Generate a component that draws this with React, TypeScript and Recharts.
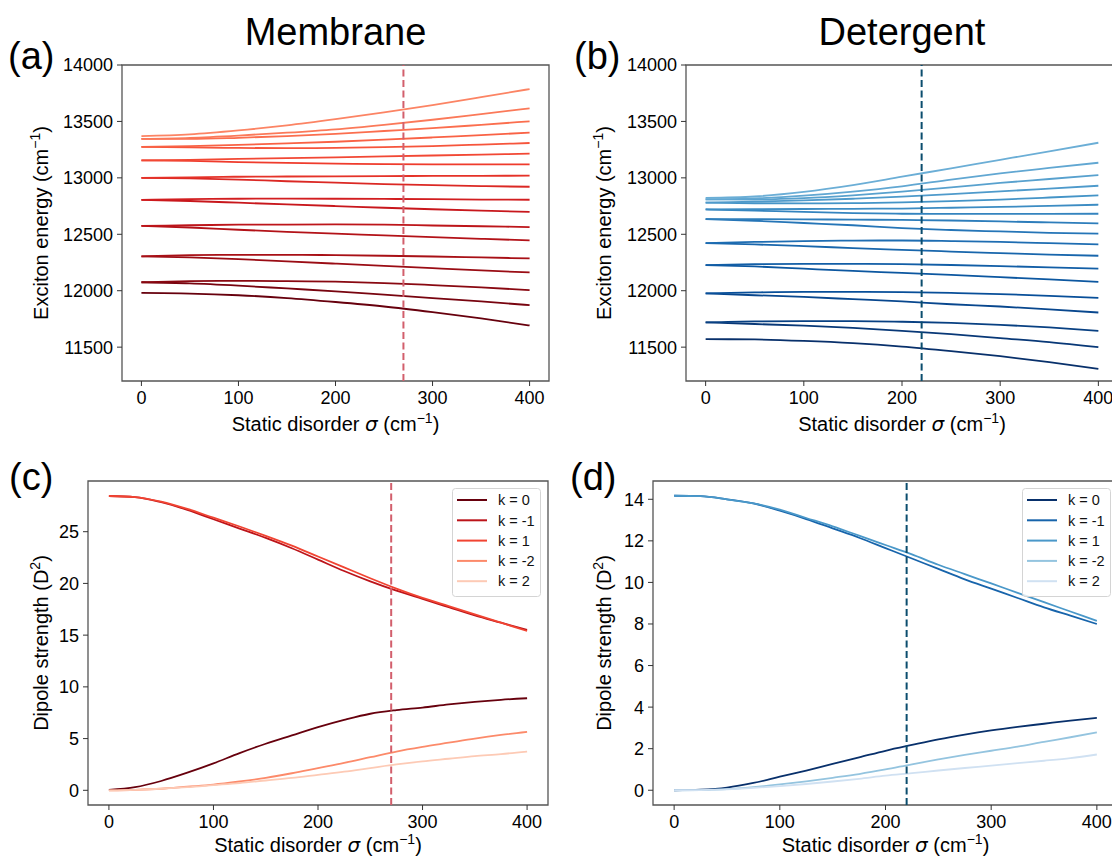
import React from 'react';
import { LineChart, Line, XAxis, YAxis, ReferenceLine, ReferenceArea, Legend } from 'recharts';

const FONT = '"Liberation Sans", Arial, Helvetica, sans-serif';

// static disorder grids (cm^-1)
const sigmaCoarse = [0, 50, 100, 150, 200, 250, 300, 350, 400];
const sigmaFine = [0, 25, 50, 75, 100, 125, 150, 175, 200, 225, 250, 275, 300, 325, 350, 375, 400];

const xTicks = [0, 100, 200, 300, 400];
const energyTicks = [11500, 12000, 12500, 13000, 13500, 14000];
const memDipoleTicks = [0, 5, 10, 15, 20, 25];
const detDipoleTicks = [0, 2, 4, 6, 8, 10, 12, 14];

// exciton levels, lowest first, one row per level, sampled on sigmaCoarse
const membraneLevels = [
  [11980, 11975, 11960, 11935, 11900, 11860, 11810, 11755, 11692],
  [12075, 12065, 12045, 12020, 11995, 11965, 11935, 11905, 11872],
  [12075, 12085, 12088, 12085, 12080, 12068, 12050, 12030, 12005],
  [12305, 12295, 12280, 12260, 12240, 12220, 12200, 12180, 12162],
  [12305, 12315, 12318, 12318, 12315, 12310, 12303, 12295, 12286],
  [12575, 12560, 12540, 12522, 12505, 12490, 12475, 12460, 12446],
  [12575, 12580, 12585, 12586, 12587, 12585, 12578, 12571, 12564],
  [12805, 12795, 12780, 12765, 12750, 12735, 12722, 12710, 12699],
  [12805, 12812, 12815, 12816, 12815, 12813, 12811, 12808, 12806],
  [13000, 12995, 12985, 12970, 12958, 12945, 12935, 12927, 12921],
  [13000, 13005, 13010, 13012, 13014, 13016, 13017, 13018, 13019],
  [13155, 13150, 13140, 13132, 13126, 13122, 13120, 13120, 13120],
  [13155, 13160, 13168, 13175, 13182, 13190, 13198, 13206, 13214],
  [13275, 13270, 13265, 13263, 13265, 13272, 13282, 13295, 13309],
  [13275, 13282, 13292, 13305, 13320, 13338, 13358, 13379, 13400],
  [13345, 13345, 13355, 13370, 13390, 13415, 13440, 13470, 13501],
  [13345, 13355, 13375, 13400, 13430, 13470, 13515, 13565, 13616],
  [13370, 13385, 13420, 13465, 13520, 13580, 13645, 13715, 13787],
];

const detergentLevels = [
  [11571, 11568, 11555, 11535, 11505, 11465, 11420, 11368, 11308],
  [11719, 11705, 11690, 11670, 11645, 11615, 11580, 11545, 11500],
  [11719, 11728, 11730, 11730, 11725, 11715, 11698, 11675, 11645],
  [11976, 11960, 11945, 11925, 11905, 11880, 11860, 11835, 11807],
  [11976, 11985, 11990, 11990, 11987, 11980, 11970, 11955, 11937],
  [12227, 12215, 12195, 12175, 12158, 12140, 12120, 12100, 12079],
  [12227, 12235, 12238, 12238, 12235, 12228, 12218, 12207, 12195],
  [12422, 12410, 12395, 12378, 12362, 12347, 12333, 12320, 12310],
  [12422, 12432, 12440, 12444, 12445, 12440, 12432, 12421, 12410],
  [12635, 12620, 12600, 12580, 12555, 12538, 12525, 12513, 12505],
  [12635, 12634, 12632, 12630, 12627, 12622, 12614, 12605, 12596],
  [12720, 12710, 12698, 12688, 12682, 12680, 12680, 12681, 12682],
  [12720, 12722, 12724, 12726, 12728, 12735, 12742, 12752, 12762],
  [12780, 12775, 12774, 12776, 12782, 12793, 12808, 12826, 12845],
  [12780, 12790, 12800, 12815, 12833, 12856, 12880, 12905, 12930],
  [12810, 12808, 12820, 12845, 12878, 12915, 12955, 12990, 13025],
  [12810, 12818, 12842, 12878, 12925, 12985, 13040, 13088, 13134],
  [12822, 12835, 12875, 12935, 13010, 13085, 13160, 13235, 13311],
];

// dipole strengths (D^2), sampled on sigmaFine
const kLabels = ['k = 0', 'k = -1', 'k = 1', 'k = -2', 'k = 2'];

const memK0 = [0.05, 0.3, 0.9, 1.7, 2.6, 3.6, 4.5, 5.3, 6.1, 6.8, 7.4, 7.75, 8.0, 8.3, 8.55, 8.75, 8.9];
const memKm1 = [28.45, 28.35, 27.85, 27.1, 26.2, 25.3, 24.4, 23.4, 22.3, 21.2, 20.2, 19.3, 18.5, 17.7, 16.9, 16.2, 15.5];
const memK1 = [28.45, 28.35, 27.9, 27.2, 26.35, 25.5, 24.6, 23.65, 22.6, 21.55, 20.5, 19.5, 18.6, 17.8, 17.0, 16.2, 15.4];
const memKm2 = [0, 0.05, 0.15, 0.35, 0.55, 0.85, 1.2, 1.65, 2.15, 2.65, 3.2, 3.75, 4.2, 4.6, 5.0, 5.35, 5.65];
const memK2 = [0, 0.05, 0.15, 0.3, 0.5, 0.7, 0.95, 1.2, 1.5, 1.8, 2.15, 2.5, 2.8, 3.05, 3.3, 3.5, 3.75];

const detK0 = [0, 0.03, 0.13, 0.35, 0.65, 0.95, 1.27, 1.58, 1.9, 2.18, 2.45, 2.68, 2.88, 3.05, 3.2, 3.35, 3.48];
const detKm1 = [14.17, 14.15, 14.0, 13.8, 13.45, 13.05, 12.6, 12.15, 11.65, 11.15, 10.65, 10.15, 9.7, 9.25, 8.8, 8.4, 8.0];
const detK1 = [14.17, 14.15, 14.0, 13.8, 13.5, 13.1, 12.7, 12.25, 11.8, 11.35, 10.85, 10.4, 9.95, 9.5, 9.05, 8.6, 8.15];
const detKm2 = [0, 0.01, 0.05, 0.15, 0.28, 0.43, 0.6, 0.78, 1.0, 1.25, 1.48, 1.7, 1.9, 2.1, 2.33, 2.55, 2.78];
const detK2 = [0, 0.01, 0.04, 0.11, 0.2, 0.3, 0.42, 0.55, 0.7, 0.82, 0.95, 1.07, 1.18, 1.3, 1.42, 1.55, 1.72];

const membraneCut = 270;
const detergentCut = 220;

// matplotlib Reds / Blues
const REDS = ['#fff5f0', '#fee0d2', '#fcbba1', '#fc9272', '#fb6a4a', '#ef3b2c', '#cb181d', '#a50f15', '#67000d'];
const BLUES = ['#f7fbff', '#deebf7', '#c6dbef', '#9ecae1', '#6baed6', '#4292c6', '#2171b5', '#08519c', '#08306b'];

function cmap(stops: string[], t: number) {
  const p = t * (stops.length - 1);
  const i = Math.min(Math.floor(p), stops.length - 2);
  const f = p - i;
  const a = stops[i], b = stops[i + 1];
  const ch = (s: string, k: number) => parseInt(s.slice(1 + 2 * k, 3 + 2 * k), 16);
  const c = [0, 1, 2].map(k => Math.round(ch(a, k) + (ch(b, k) - ch(a, k)) * f));
  return `rgb(${c[0]},${c[1]},${c[2]})`;
}

const levelColors = (stops: string[], n: number, lo: number) =>
  Array.from({ length: n }, (_, i) => cmap(stops, 1 - (i / (n - 1)) * (1 - lo)));
const dipoleColors = (stops: string[]) => [1, 0.8, 0.6, 0.4, 0.2].map(t => cmap(stops, t));

const levelRows = (levels: number[][]) =>
  sigmaCoarse.map((s, j) => {
    const row: Record<string, number> = { sigma: s };
    levels.forEach((l, i) => { row['e' + i] = l[j]; });
    return row;
  });

const dipoleRows = (series: number[][]) =>
  sigmaFine.map((s, j) => {
    const row: Record<string, number> = { sigma: s };
    series.forEach((l, i) => { row['k' + i] = l[j]; });
    return row;
  });

const tickStyle = { fill: '#000', fontSize: 18, fontFamily: FONT };
const FRAME = '#555';
const YW = 80;
const MT = 15;
const XH = 45;

function EnergyPanel({ plotLeft, plotWidth, levels, colors, cut, cutColor }: {
  plotLeft: number; plotWidth: number; levels: number[][]; colors: string[]; cut: number; cutColor: string;
}) {
  const plotTop = 65, plotHeight = 316;
  return (
    <div style={{ position: 'absolute', left: plotLeft - YW, top: plotTop - MT }}>
      <LineChart width={YW + plotWidth + 10} height={MT + plotHeight + XH} data={levelRows(levels)}
        margin={{ top: MT, right: 10, bottom: 0, left: 0 }}>
        <XAxis dataKey="sigma" type="number" domain={[-20, 420]} ticks={xTicks} interval={0} allowDataOverflow
          height={XH} tickSize={5} tickMargin={5} axisLine={false} tickLine={{ stroke: '#333' }} tick={tickStyle} />
        <YAxis type="number" domain={[11200, 14000]} ticks={energyTicks} interval={0} allowDataOverflow
          width={YW} tickSize={5} tickMargin={4} axisLine={false} tickLine={{ stroke: '#333' }} tick={tickStyle} />
        <ReferenceArea x1={-20} x2={420} y1={11200} y2={14000} fill="none" stroke={FRAME} strokeWidth={1.3} />
        {levels.map((_, i) => (
          <Line key={i} type="monotone" dataKey={'e' + i} stroke={colors[i]} strokeWidth={1.8}
            dot={false} activeDot={false} isAnimationActive={false} />
        ))}
        <ReferenceLine x={cut} stroke={cutColor} strokeWidth={2} strokeDasharray="7 3.5" />
      </LineChart>
    </div>
  );
}

function LegendBox({ colors }: { colors: string[] }) {
  return (
    <svg width={89} height={109} style={{ display: 'block' }}>
      <rect x={0.5} y={0.5} width={88} height={108} rx={3} fill="rgba(255,255,255,0.8)" stroke="#d4d4d4" />
      {kLabels.map((n, i) => {
        const y = 12 + i * 20.3;
        return (
          <g key={n}>
            <line x1={5} x2={35} y1={y} y2={y} stroke={colors[i]} strokeWidth={2} />
            <text x={46} y={y} dy="0.36em" fontSize={14.5} fontFamily={FONT} fill="#111">{n}</text>
          </g>
        );
      })}
    </svg>
  );
}

function DipolePanel({ plotLeft, plotWidth, series, colors, domain, ticks, cut, cutColor }: {
  plotLeft: number; plotWidth: number; series: number[][]; colors: string[];
  domain: [number, number]; ticks: number[]; cut: number; cutColor: string;
}) {
  const plotTop = 481, plotHeight = 324, yw = 60;
  return (
    <div style={{ position: 'absolute', left: plotLeft - yw, top: plotTop - MT }}>
      <LineChart width={yw + plotWidth + 10} height={MT + plotHeight + XH} data={dipoleRows(series)}
        margin={{ top: MT, right: 10, bottom: 0, left: 0 }}>
        <XAxis dataKey="sigma" type="number" domain={[-20, 420]} ticks={xTicks} interval={0} allowDataOverflow
          height={XH} tickSize={5} tickMargin={5} axisLine={false} tickLine={{ stroke: '#333' }} tick={tickStyle} />
        <YAxis type="number" domain={domain} ticks={ticks} interval={0} allowDataOverflow
          width={yw} tickSize={5} tickMargin={4} axisLine={false} tickLine={{ stroke: '#333' }} tick={tickStyle} />
        <ReferenceArea x1={-20} x2={420} y1={domain[0]} y2={domain[1]} fill="none" stroke={FRAME} strokeWidth={1.3} />
        {series.map((_, i) => (
          <Line key={i} type="monotone" dataKey={'k' + i} name={kLabels[i]} stroke={colors[i]} strokeWidth={1.8}
            dot={false} activeDot={false} isAnimationActive={false} />
        ))}
        <ReferenceLine x={cut} stroke={cutColor} strokeWidth={2} strokeDasharray="7 3.5" />
        <Legend layout="vertical" align="center" verticalAlign="middle"
          wrapperStyle={{ left: yw + plotWidth - 96, top: 22, width: 89, height: 109 }}
          content={() => <LegendBox colors={colors} />} />
      </LineChart>
    </div>
  );
}

function XTitle({ cx, y }: { cx: number; y: number }) {
  return (
    <text x={cx} y={y} textAnchor="middle" fontSize={20}>
      {'Static disorder '}
      <tspan fontStyle="italic" fontFamily="DejaVu Sans">σ</tspan>
      {' (cm'}
      <tspan fontSize={14} dy={-8}>−1</tspan>
      <tspan dy={8}>)</tspan>
    </text>
  );
}

function YTitle({ x, cy, sup, text }: { x: number; cy: number; sup: string; text: string }) {
  return (
    <text transform={`translate(${x},${cy}) rotate(-90)`} textAnchor="middle" fontSize={20}>
      {text}
      <tspan fontSize={14} dy={-8}>{sup}</tspan>
      <tspan dy={8}>)</tspan>
    </text>
  );
}

export default function App() {
  const memColors = levelColors(REDS, membraneLevels.length, 0.42);
  const detColors = levelColors(BLUES, detergentLevels.length, 0.5);
  const memDip = dipoleColors(REDS);
  const detDip = dipoleColors(BLUES);
  const memCutColor = '#d25f6c';
  const detCutColor = '#0b4d6e';

  return (
    <div style={{ position: 'absolute', left: 0, top: 0, width: 1112, height: 856, overflow: 'hidden', background: '#fff' }}>
      <EnergyPanel plotLeft={122} plotWidth={427} levels={membraneLevels} colors={memColors}
        cut={membraneCut} cutColor={memCutColor} />
      <EnergyPanel plotLeft={686} plotWidth={432} levels={detergentLevels} colors={detColors}
        cut={detergentCut} cutColor={detCutColor} />
      <DipolePanel plotLeft={88} plotWidth={460} series={[memK0, memKm1, memK1, memKm2, memK2]} colors={memDip}
        domain={[-1.42, 29.9]} ticks={memDipoleTicks} cut={membraneCut} cutColor={memCutColor} />
      <DipolePanel plotLeft={653} plotWidth={465} series={[detK0, detKm1, detK1, detKm2, detK2]} colors={detDip}
        domain={[-0.71, 14.88]} ticks={detDipoleTicks} cut={detergentCut} cutColor={detCutColor} />

      <svg width={1112} height={856} style={{ position: 'absolute', left: 0, top: 0, pointerEvents: 'none' }}
        fontFamily={FONT} fill="#000">
        <text x={335.5} y={45} textAnchor="middle" fontSize={38}>Membrane</text>
        <text x={902} y={45} textAnchor="middle" fontSize={38}>Detergent</text>
        <text x={8} y={69} fontSize={38}>(a)</text>
        <text x={574} y={69} fontSize={38}>(b)</text>
        <text x={9} y={490} fontSize={38}>(c)</text>
        <text x={570} y={490} fontSize={38}>(d)</text>

        <XTitle cx={335.5} y={431} />
        <XTitle cx={902} y={431} />
        <XTitle cx={318} y={852} />
        <XTitle cx={885.5} y={852} />

        <YTitle x={48} cy={223} text="Exciton energy (cm" sup="−1" />
        <YTitle x={611} cy={223} text="Exciton energy (cm" sup="−1" />
        <YTitle x={48} cy={643} text="Dipole strength (D" sup="2" />
        <YTitle x={611} cy={643} text="Dipole strength (D" sup="2" />
      </svg>
    </div>
  );
}
